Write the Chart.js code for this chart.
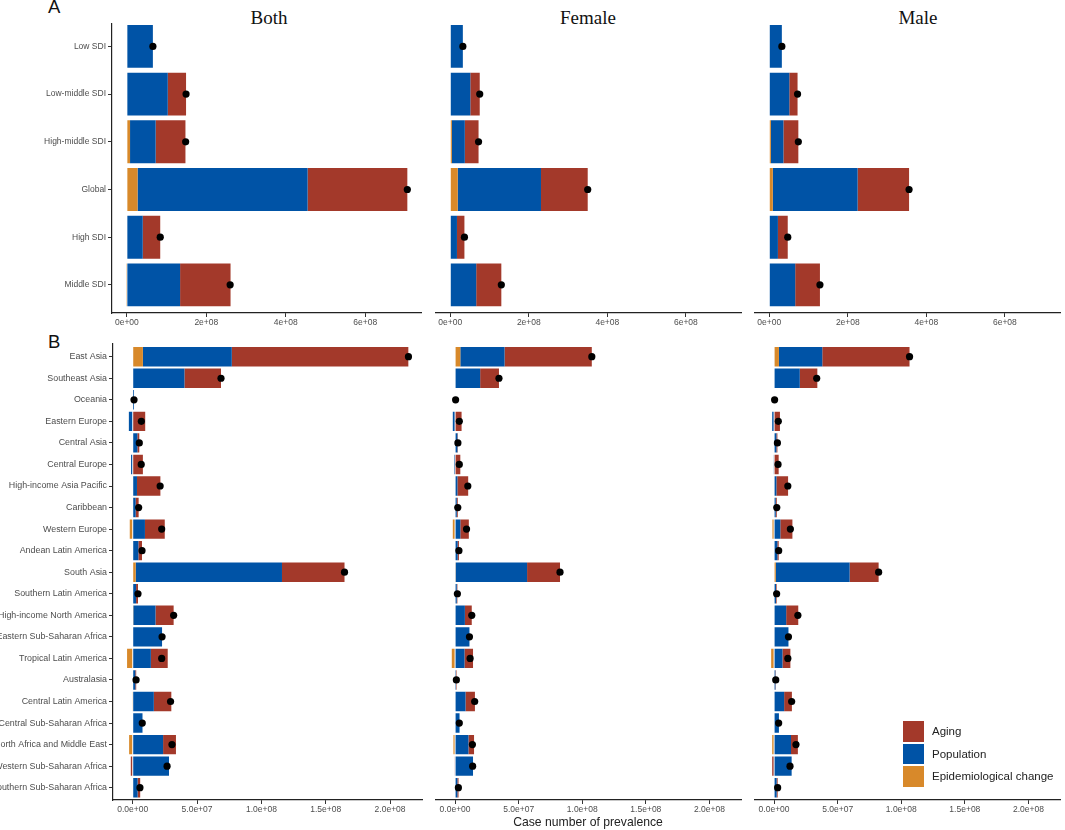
<!DOCTYPE html>
<html>
<head>
<meta charset="utf-8">
<script src="https://cdn.jsdelivr.net/npm/chart.js@4.4.1/dist/chart.umd.min.js"></script>
<style>
  body { margin: 0; background: #fff; }
  #page { position: relative; width: 1065px; height: 830px; overflow: hidden; background: #fff;
          font-family: "Liberation Sans", Arial, sans-serif; }
  canvas { position: absolute; }
  .lbl { position: absolute; white-space: nowrap; line-height: 1; }
  .title { font-family: "Liberation Serif", "Times New Roman", serif; font-size: 19px; color: #111;
           transform: translateX(-50%); }
  .tag { font-size: 18.5px; color: #111; }
  .legend { position: absolute; left: 903px; top: 720px; }
  .legend .row { display: flex; align-items: center; height: 22.6px; }
  .legend .sw { width: 21px; height: 20.5px; margin-right: 8px; }
  .legend span { font-size: 11.5px; color: #222; }
</style>
</head>
<body>
<div id="page">
  <div class="lbl tag" style="left:48px; top:-2px;">A</div>
  <div class="lbl tag" style="left:48px; top:333px;">B</div>
  <div class="lbl title" style="left:269px; top:7.5px;">Both</div>
  <div class="lbl title" style="left:588px; top:7.5px;">Female</div>
  <div class="lbl title" style="left:918px; top:7.5px;">Male</div>

  <canvas id="aBoth"></canvas>
  <canvas id="aFemale"></canvas>
  <canvas id="aMale"></canvas>
  <canvas id="bBoth"></canvas>
  <canvas id="bFemale"></canvas>
  <canvas id="bMale"></canvas>

  <div class="lbl" style="left:588px; top:815.5px; transform:translateX(-50%); font-size:12.2px; color:#222;">Case number of prevalence</div>

  <div class="legend" id="legend"></div>
</div>

<script>
// ===== DATA (case numbers in millions) =====
const sdiLabels = ["Low SDI", "Low-middle SDI", "High-middle SDI", "Global", "High SDI", "Middle SDI"];

const sdiBothEpi    = [0, 0, 8, 27, 0, -2];
const sdiBothPop    = [65.5, 103, 64.5, 428, 40, 134];
const sdiBothAging  = [0, 46, 75, 251, 44, 127];
const sdiBothTotal  = [65.5, 149, 148, 706, 84, 260];

const sdiFemaleEpi   = [0, 0, 4, 19, 0, 0];
const sdiFemalePop   = [32, 51, 33, 212, 17, 66];
const sdiFemaleAging = [0, 24, 35, 119, 19, 64];
const sdiFemaleTotal = [32, 75, 72, 350, 36, 130];

const sdiMaleEpi   = [0, 0, 4, 9, 0, 0];
const sdiMalePop   = [32, 51, 32, 216, 22, 66];
const sdiMaleAging = [0, 21, 38, 131, 25, 63];
const sdiMaleTotal = [32, 72, 74, 356, 47, 129];

const regionLabels = ["East Asia", "Southeast Asia", "Oceania", "Eastern Europe", "Central Asia",
  "Central Europe", "High-income Asia Pacific", "Caribbean", "Western Europe", "Andean Latin America",
  "South Asia", "Southern Latin America", "High-income North America", "Eastern Sub-Saharan Africa",
  "Tropical Latin America", "Australasia", "Central Latin America", "Central Sub-Saharan Africa",
  "North Africa and Middle East", "Western Sub-Saharan Africa", "Southern Sub-Saharan Africa"];

const regBothEpi   = [7.9, 0, 0, 0, 0, 0, 0, 0, -2.3, 0, 2.3, 0, 0.5, 0, -4.4, 0, -0.5, 0, -2.8, 0, 0];
const regBothPop   = [69.1, 40.2, 1.0, -3.0, 3.6, -1.3, 3.3, 2.3, 9.5, 4.4, 113.7, 2.6, 17.2, 22.8, 14.1, 2.0, 16.4, 7.6, 23.6, 28.2, 3.8];
const regBothAging = [137.2, 28.4, 0, 9.7, 1.5, 7.9, 18.2, 2.3, 15.4, 2.8, 48.6, 1.5, 14.1, 0, 13.1, 0.7, 13.6, 0, 10.0, -1.5, 2.0];
const regBothTotal = [214.3, 68.6, 1.0, 6.7, 5.1, 6.6, 21.3, 4.6, 22.5, 7.2, 164.6, 4.1, 31.8, 22.8, 22.5, 2.6, 29.4, 7.4, 30.5, 26.7, 5.6];

const regFemaleEpi   = [4.1, 0, 0, 0, 0, 0, 0, 0, -1.8, 0, 0.5, 0, 0, 0, -2.6, 0, 0, 0, -1.3, 0, 0];
const regFemalePop   = [34.8, 19.7, 0.4, -1.8, 1.8, -0.8, 1.8, 1.3, 4.1, 2.0, 56.1, 1.3, 7.7, 11.3, 7.4, 0.7, 8.2, 3.5, 10.5, 14.1, 1.8];
const regFemaleAging = [68.6, 14.8, 0, 5.1, 0.4, 4.1, 8.5, 0.8, 6.7, 1.0, 25.9, 0.5, 5.4, 0, 6.7, 0.4, 7.4, 0, 4.4, -0.3, 0.9];
const regFemaleTotal = [107.5, 34.5, 0.4, 3.3, 2.2, 3.3, 10.0, 2.1, 9.0, 3.0, 82.5, 1.8, 13.1, 11.3, 11.8, 1.0, 15.4, 3.3, 13.6, 13.8, 2.6];

const regMaleEpi   = [3.8, 0, 0, 0, 0, 0, 0, 0, -1.3, 0, 1.3, 0, 0, 0, -2.3, 0, 0, 0, -1.5, 0, 0];
const regMalePop   = [34.1, 20.2, 0.4, -1.5, 1.8, -0.5, 1.8, 1.3, 4.9, 2.6, 58.1, 1.5, 9.5, 11.3, 6.6, 1.0, 7.9, 3.8, 13.3, 13.8, 2.0];
const regMaleAging = [68.6, 13.8, 0, 4.6, 0.8, 3.6, 9.2, 0.8, 9.5, 1.0, 22.8, 0.5, 9.5, 0, 6.2, 0.3, 6.1, 0, 5.4, -1.5, 0.8];
const regMaleTotal = [106.5, 33.5, 0.4, 3.3, 2.6, 3.1, 10.8, 2.1, 12.8, 3.6, 82.2, 2.0, 18.7, 11.3, 10.8, 1.3, 13.8, 3.6, 17.2, 12.5, 2.8];

// axis ticks (values in millions)
const sdiTickValues = [0, 200, 400, 600];
const sdiTickLabels = ["0e+00", "2e+08", "4e+08", "6e+08"];
const regTickValues = [0, 50, 100, 150, 200];
const regTickLabels = ["0.0e+00", "5.0e+07", "1.0e+08", "1.5e+08", "2.0e+08"];

const legendNames = ["Aging", "Population", "Epidemiological change"];

// === warna ===
const COL_AGING = "#A3392A";
const COL_POP = "#0053A6";
const COL_EPI = "#D8892A";

Chart.defaults.font.family = "'Liberation Sans', Arial, sans-serif";
Chart.defaults.animation = false;

// ===== range like ggplot (5% expansion, shared across facets) =====
function stackRange(groups) {
  let lo = 0, hi = 0;
  groups.forEach(([a, b, c]) => {
    a.forEach((_, i) => {
      const vals = [a[i], b[i], c[i]];
      const pos = vals.filter(v => v > 0).reduce((s, v) => s + v, 0);
      const neg = vals.filter(v => v < 0).reduce((s, v) => s + v, 0);
      hi = Math.max(hi, pos);
      lo = Math.min(lo, neg);
    });
  });
  const pad = (hi - lo) * 0.05;
  return [lo - pad, hi + pad];
}

const sdiRange = stackRange([
  [sdiBothEpi, sdiBothPop, sdiBothAging],
  [sdiFemaleEpi, sdiFemalePop, sdiFemaleAging],
  [sdiMaleEpi, sdiMalePop, sdiMaleAging]
]);
const regRange = stackRange([
  [regBothEpi, regBothPop, regBothAging],
  [regFemaleEpi, regFemalePop, regFemaleAging],
  [regMaleEpi, regMalePop, regMaleAging]
]);

// ===== panel builder =====
function makePanel(id, box, labels, epi, pop, aging, total, cfg) {
  const canvas = document.getElementById(id);
  canvas.width = box.w;
  canvas.height = box.h;
  canvas.style.left = box.x + "px";
  canvas.style.top = box.y + "px";

  const n = labels.length;
  new Chart(canvas, {
    type: "bar",
    data: {
      labels: labels,
      datasets: [
        { label: "Epidemiological change", data: epi, backgroundColor: COL_EPI, stack: "dec" },
        { label: "Population", data: pop, backgroundColor: COL_POP, stack: "dec" },
        { label: "Aging", data: aging, backgroundColor: COL_AGING, stack: "dec" },
        {
          type: "line", label: "Total", data: total, stack: "tot", order: -1,
          showLine: false, pointRadius: 3.6, pointHoverRadius: 3.6,
          pointBackgroundColor: "#000", pointBorderWidth: 0, clip: false
        }
      ]
    },
    options: {
      indexAxis: "y",
      responsive: false,
      devicePixelRatio: 1,
      layout: { padding: { top: box.padTop, left: 0, right: 0, bottom: 0 } },
      categoryPercentage: 0.9,
      barPercentage: 1.0,
      plugins: { legend: { display: false }, tooltip: { enabled: false } },
      scales: {
        x: {
          type: "linear",
          stacked: true,
          min: cfg.range[0],
          max: cfg.range[1],
          afterBuildTicks: (scale) => { scale.ticks = cfg.ticks.map(v => ({ value: v })); },
          afterFit: (scale) => { scale.height = 20; },
          ticks: {
            padding: 1, maxRotation: 0, color: "#4d4d4d", font: { size: 8.5 },
            callback: (v) => cfg.tickLabels[cfg.ticks.indexOf(v)]
          },
          grid: { display: true, drawOnChartArea: false, drawTicks: true, tickLength: 4, color: "#333" },
          border: { display: true, color: "#222", width: 1.2 }
        },
        y: {
          type: "category",
          stacked: true,
          display: box.showY,
          offset: true,
          afterBuildTicks: (scale) => {
            // ggplot-like discrete expansion
            scale._startValue = -cfg.expand[0];
            scale._valueRange = (n - 1) + cfg.expand[0] + cfg.expand[1];
          },
          afterFit: (scale) => { scale.width = box.axisW || 0; },
          ticks: { padding: 2, color: "#4d4d4d", font: { size: cfg.labelSize }, autoSkip: false },
          grid: { display: true, offset: false, drawOnChartArea: false, drawTicks: true, tickLength: 4, color: "#333" },
          border: { display: true, color: "#222", width: 1.2 }
        }
      }
    }
  });
}

// === Panel A (SDI) ===
const cfgA = { range: sdiRange, ticks: sdiTickValues, tickLabels: sdiTickLabels, expand: [0.47, 0.59], labelSize: 8.5 };
makePanel("aBoth",   { x: 0,     y: 0, w: 425, h: 333, padTop: 24, showY: true, axisW: 112 },
  sdiLabels, sdiBothEpi, sdiBothPop, sdiBothAging, sdiBothTotal, cfgA);
makePanel("aFemale", { x: 431.5, y: 0, w: 313, h: 333, padTop: 24, showY: false },
  sdiLabels, sdiFemaleEpi, sdiFemalePop, sdiFemaleAging, sdiFemaleTotal, cfgA);
makePanel("aMale",   { x: 750.5, y: 0, w: 313, h: 333, padTop: 24, showY: false },
  sdiLabels, sdiMaleEpi, sdiMalePop, sdiMaleAging, sdiMaleTotal, cfgA);

// === Panel B (regions) ===
const cfgB = { range: regRange, ticks: regTickValues, tickLabels: regTickLabels, expand: [0.59, 0.57], labelSize: 8.9 };
makePanel("bBoth",   { x: 0,     y: 330, w: 426, h: 490, padTop: 14, showY: true, axisW: 113 },
  regionLabels, regBothEpi, regBothPop, regBothAging, regBothTotal, cfgB);
makePanel("bFemale", { x: 431.5, y: 330, w: 313, h: 490, padTop: 14, showY: false },
  regionLabels, regFemaleEpi, regFemalePop, regFemaleAging, regFemaleTotal, cfgB);
makePanel("bMale",   { x: 750.5, y: 330, w: 313, h: 490, padTop: 14, showY: false },
  regionLabels, regMaleEpi, regMalePop, regMaleAging, regMaleTotal, cfgB);

// === Legend ===
const legendColors = [COL_AGING, COL_POP, COL_EPI];
const legendEl = document.getElementById("legend");
legendNames.forEach((name, i) => {
  const row = document.createElement("div");
  row.className = "row";
  row.innerHTML = '<div class="sw" style="background:' + legendColors[i] + '"></div><span>' + name + '</span>';
  legendEl.appendChild(row);
});
</script>
</body>
</html>
